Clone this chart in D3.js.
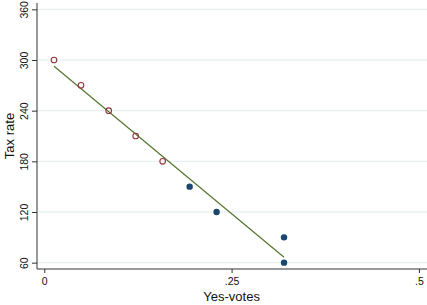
<!DOCTYPE html>
<html>
<head>
<meta charset="utf-8">
<script src="https://cdn.jsdelivr.net/npm/d3@7"></script>
<style>
  html, body { margin: 0; padding: 0; background: #fff; }
  svg { display: block; font-family: "Liberation Sans", Arial, sans-serif; }
</style>
</head>
<body>
<svg id="chart"></svg>
<script>
// data
const openX = [0.013, 0.049, 0.086, 0.122, 0.158];
const openY = [300, 270, 240, 210, 180];
const filledX = [0.194, 0.230, 0.320, 0.320];
const filledY = [150, 120, 90, 60];
const yTicks = [60, 120, 180, 240, 300, 360];
const xTicks = [0, 0.25, 0.5];
const xTickLabels = ["0", ".25", ".5"];

const width = 427;
const height = 305;

const svg = d3.select("#chart")
  .attr("width", width)
  .attr("height", height);

svg.append("rect")
  .attr("width", width)
  .attr("height", height)
  .attr("fill", "#fff");

// plot region
const plotL = 37, plotR = 427, plotT = 3, plotB = 269;

const x = d3.scaleLinear()
  .domain([-0.0097, 0.5108])
  .range([plotL, plotR]);

const y = d3.scaleLinear()
  .domain([52.5, 367.5])
  .range([plotB, plotT]);

// gridlines
svg.append("g")
  .selectAll("line")
  .data(yTicks)
  .join("line")
  .attr("x1", plotL)
  .attr("x2", plotR)
  .attr("y1", d => y(d))
  .attr("y2", d => y(d))
  .attr("stroke", "#e3ecef")
  .attr("stroke-width", 1);

// fitted line (least squares over all points)
const allX = openX.concat(filledX);
const allY = openY.concat(filledY);
const mx = d3.mean(allX), my = d3.mean(allY);
const sxy = d3.sum(allX, (v, i) => (v - mx) * (allY[i] - my));
const sxx = d3.sum(allX, v => (v - mx) * (v - mx));
const slope = sxy / sxx;
const icpt = my - slope * mx;
const [x0, x1] = d3.extent(allX);

svg.append("line")
  .attr("x1", x(x0))
  .attr("y1", y(icpt + slope * x0))
  .attr("x2", x(x1))
  .attr("y2", y(icpt + slope * x1))
  .attr("stroke", "#55752f")
  .attr("stroke-width", 1.2);

// open markers
svg.append("g")
  .selectAll("circle")
  .data(openX)
  .join("circle")
  .attr("cx", d => x(d))
  .attr("cy", (d, i) => y(openY[i]))
  .attr("r", 2.8)
  .attr("fill", "none")
  .attr("stroke", "#90353b")
  .attr("stroke-width", 1.1);

// filled markers
svg.append("g")
  .selectAll("circle")
  .data(filledX)
  .join("circle")
  .attr("cx", d => x(d))
  .attr("cy", (d, i) => y(filledY[i]))
  .attr("r", 3.2)
  .attr("fill", "#1a476f");

// y axis
const yAxis = svg.append("g")
  .attr("transform", `translate(${plotL},0)`)
  .call(d3.axisLeft(y).tickValues(yTicks).tickSize(5).tickSizeOuter(0).tickPadding(0));
yAxis.select(".domain").attr("stroke", "#333").attr("d", `M0,${plotT}V${plotB}`);
yAxis.selectAll(".tick line").attr("stroke", "#333");
yAxis.selectAll(".tick text")
  .attr("transform", "rotate(-90)")
  .attr("x", 0)
  .attr("y", -9.5)
  .attr("dy", 0)
  .attr("text-anchor", "middle")
  .attr("font-size", 10.5)
  .attr("fill", "#111");

// x axis
const xAxis = svg.append("g")
  .attr("transform", `translate(0,${plotB})`)
  .call(d3.axisBottom(x).tickValues(xTicks).tickFormat((d, i) => xTickLabels[i]).tickSize(4).tickSizeOuter(0));
xAxis.select(".domain").attr("stroke", "#333").attr("d", `M${plotL},0H${plotR}`);
xAxis.selectAll(".tick line").attr("stroke", "#333");
xAxis.selectAll(".tick text")
  .attr("y", 16)
  .attr("dy", 0)
  .attr("font-size", 10.5)
  .attr("fill", "#111");

// axis titles
svg.append("text")
  .attr("x", x(0.25))
  .attr("y", 301)
  .attr("text-anchor", "middle")
  .attr("font-size", 13)
  .attr("fill", "#111")
  .text("Yes-votes");

svg.append("text")
  .attr("transform", `translate(14,${(plotT + plotB) / 2}) rotate(-90)`)
  .attr("text-anchor", "middle")
  .attr("font-size", 13)
  .attr("fill", "#111")
  .text("Tax rate");
</script>
</body>
</html>
